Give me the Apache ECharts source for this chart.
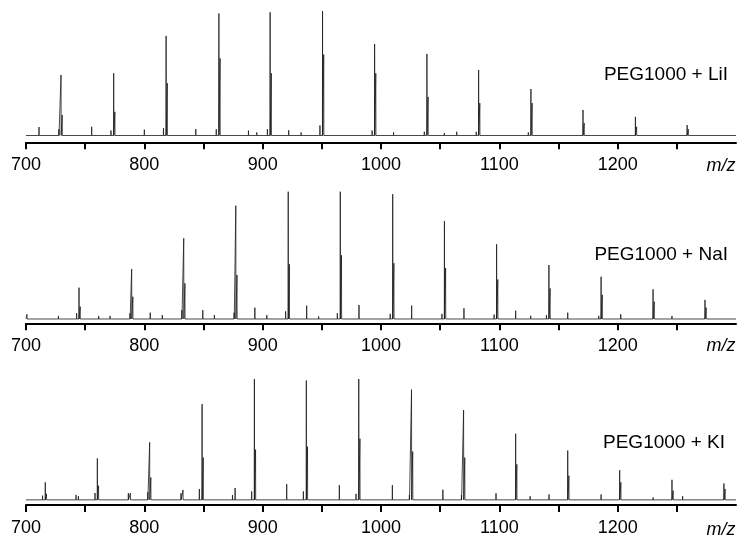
<!DOCTYPE html>
<html>
<head>
<meta charset="utf-8">
<script src="https://cdn.jsdelivr.net/npm/echarts@6/dist/echarts.min.js"></script>
<style>
  html, body { margin: 0; padding: 0; background: #fff; }
  #chart { width: 738px; height: 537px; }
</style>
</head>
<body>
<div id="chart"></div>
<script>
// Axis ticks (every 50) and labelled ticks (every 100)
const tickValues = [700, 750, 800, 850, 900, 950, 1000, 1050, 1100, 1150, 1200, 1250];
const labelValues = [700, 800, 900, 1000, 1100, 1200];
const panelTitles = ['PEG1000 + LiI', 'PEG1000 + NaI', 'PEG1000 + KI'];

// Main oligomer peaks: [m/z, intensity, M+1 isotope intensity]
const liPeaks = [
  [729.6, 48.6, 16.5], [774.1, 50, 19], [818.4, 80, 42], [863, 98, 62],
  [906.3, 99, 50], [950.6, 100, 65], [994.6, 73.5, 50], [1038.8, 65.5, 31],
  [1082.5, 52.6, 26], [1126.7, 37.3, 26], [1170.7, 20.5, 10], [1215, 15, 7],
  [1258.7, 8.4, 5]
];
// Small peaks: [m/z, intensity]
const liMinor = [
  [711, 6.8], [727.8, 5], [755.5, 7], [771.8, 4], [800, 4.7], [816.2, 6],
  [843.5, 5.2], [860.8, 5], [888, 3.9], [895, 2.5], [904, 5], [922, 4.2],
  [932.5, 2.5], [948.4, 8], [992.5, 4], [1010.6, 2.6], [1036.6, 3],
  [1053.5, 2], [1064, 3], [1080.5, 3], [1124.5, 2.5]
];

const naPeaks = [
  [744.8, 24.6, 9.7], [789.3, 39.3, 17.5], [833.3, 63.4, 28], [877.3, 89, 34.6],
  [921.6, 100, 43], [965.6, 100, 50], [1009.9, 98, 43.8], [1053.6, 77, 40],
  [1097.7, 58.7, 31], [1141.9, 42.4, 24], [1186, 33.2, 19], [1229.9, 23.3, 13.6],
  [1273.8, 15, 8.9]
];
const naMinor = [
  [700.8, 3.7], [727.4, 2.4], [742.8, 4.5], [761.4, 2.4], [771, 2.4],
  [787.9, 4.5], [805, 5], [815.2, 3.1], [831.7, 7], [849.4, 7], [859.2, 3.1],
  [875.9, 5], [893.4, 8.9], [903.5, 3.1], [919.4, 6], [937.2, 10.5],
  [947.3, 2], [963.1, 4.5], [981.4, 11], [1007.8, 4], [1025.9, 10.5],
  [1051.5, 4], [1070.1, 8.4], [1095.6, 3.5], [1113.8, 6.5], [1126.5, 2.5],
  [1139.8, 3], [1157.8, 5], [1184, 2.5], [1202.6, 3.7], [1245.9, 2.4]
];

const kPeaks = [
  [716.3, 14.5, 5], [760.3, 34.3, 11.7], [804.5, 47.6, 18.5], [848.8, 79.2, 35],
  [893, 100, 41.6], [936.9, 98.8, 44], [981.2, 100, 50.6], [1025.8, 91.2, 40],
  [1069.8, 74.3, 35], [1113.8, 54.7, 29.4], [1157.8, 40.8, 20],
  [1201.7, 24.5, 14.5], [1245.9, 16.6, 7.6], [1289.8, 13.6, 9]
];
const kMinor = [
  [714, 3.5], [742.3, 4.1], [744.3, 3], [758.3, 5.7], [786.5, 5.5],
  [788.2, 5.5], [802.9, 6.3], [831, 5.5], [832.7, 8.2], [846.5, 9],
  [874.5, 4], [876.7, 9.8], [890.7, 7], [920.3, 13], [934.4, 7],
  [964.8, 12.2], [978.9, 5], [1009.6, 12.2], [1024, 4], [1052.3, 8.4],
  [1068, 4], [1097.2, 5.5], [1126, 3], [1142, 4.5], [1186, 4.5],
  [1230, 2], [1254.9, 3]
];

// Turn peak lists into a stick spectrum sitting on a flat baseline
function spectrum(main, minor) {
  const sticks = [];
  main.forEach(([mz, h, iso]) => {
    sticks.push([mz, h]);
    sticks.push([mz + 1.0, iso]);
  });
  minor.forEach(p => sticks.push(p));
  sticks.sort((a, b) => a[0] - b[0]);
  const pts = [[700, 0]];
  sticks.forEach(([mz, h]) => {
    pts.push([mz - 0.1, 0], [mz, h], [mz + 0.1, 0]);
  });
  pts.push([1300, 0]);
  return pts;
}

const panels = [
  { main: liPeaks, minor: liMinor, top: 11, height: 131.3, yMin: -5.46, titleX: 728, titleY: 75, unitY: 165.5 },
  { main: naPeaks, minor: naMinor, top: 191.7, height: 131.6, yMin: -3.38, titleX: 728, titleY: 255, unitY: 345.5 },
  { main: kPeaks, minor: kMinor, top: 379, height: 127.7, yMin: -4.24, titleX: 725, titleY: 442.7, unitY: 529.5 }
];

const font = '"Liberation Sans", Arial, sans-serif';

const option = {
  animation: false,
  backgroundColor: '#fff',
  grid: panels.map(p => ({ left: 26, width: 710, top: p.top, height: p.height })),
  xAxis: panels.map((p, i) => ({
    gridIndex: i,
    type: 'value',
    min: 700,
    max: 1300,
    axisLine: { show: true, onZero: false, lineStyle: { color: '#000', width: 2 } },
    axisTick: { show: true, customValues: tickValues, length: 7, lineStyle: { color: '#000', width: 2 } },
    axisLabel: {
      customValues: labelValues, margin: 14, fontSize: 18, color: '#000', fontFamily: font,
      formatter: v => String(v)
    },
    splitLine: { show: false }
  })),
  yAxis: panels.map((p, i) => ({
    gridIndex: i, type: 'value', min: p.yMin, max: 100, show: false
  })),
  series: panels.map((p, i) => ({
    type: 'line',
    xAxisIndex: i,
    yAxisIndex: i,
    data: spectrum(p.main, p.minor),
    showSymbol: false,
    symbol: 'none',
    clip: false,
    lineStyle: { color: '#1a1a1a', width: 0.8 }
  })),
  graphic: panels.flatMap((p, i) => ([
    {
      type: 'text', x: p.titleX, y: p.titleY,
      style: { text: panelTitles[i], font: '19px ' + font, fill: '#000', align: 'right', verticalAlign: 'middle' }
    },
    {
      type: 'text', x: 735.5, y: p.unitY,
      style: { text: 'm/z', font: 'italic 18px ' + font, fill: '#000', align: 'right', verticalAlign: 'middle' }
    }
  ]))
};

const chart = echarts.init(document.getElementById('chart'), null, { renderer: 'canvas' });
chart.setOption(option);
</script>
</body>
</html>
